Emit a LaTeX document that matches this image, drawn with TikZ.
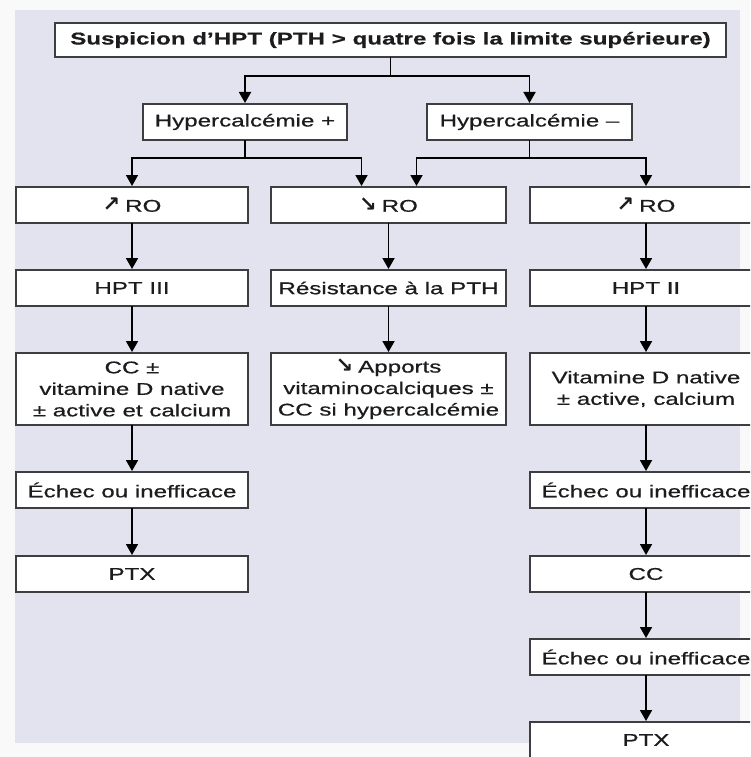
\documentclass[tikz,border=0pt]{standalone}
\usepackage{fontspec}
\setmainfont[FakeStretch=1.42,FakeBold=0.6]{Liberation Sans}
\newfontfamily\arrowfont{DejaVu Sans}
\usetikzlibrary{arrows.meta}
\definecolor{panel}{RGB}{227,227,240}
\definecolor{edge}{RGB}{62,62,66}
\definecolor{ink}{RGB}{28,28,30}
\newcommand{\up}{{\arrowfont\bfseries\fontsize{21}{21}\selectfont ↗}\hspace{5pt}}
\newcommand{\down}{{\arrowfont\bfseries\fontsize{21}{21}\selectfont ↘}\hspace{5pt}}
\begin{document}
\begin{tikzpicture}[x=1pt,y=-1pt,
  box/.style={draw=edge,fill=white,line width=1.3pt,inner sep=2pt,outer sep=0pt,
    align=center,text=ink,font=\fontsize{17}{21.5}\selectfont,
    minimum height=36pt},
  colL/.style={box,minimum width=232pt},
  colM/.style={box,minimum width=235pt},
  colR/.style={box,minimum width=232pt},
  flow/.style={draw=black,line width=1.8pt,
    -{Triangle[width=12pt,length=11pt]},shorten >=1pt}]
\useasboundingbox (0,0) rectangle (750,757);
\clip (0,0) rectangle (750,757);
% page and panel
\fill[white!95!gray] (0,0) rectangle (750,757);
\fill[panel] (15,10) rectangle (740,743);

% top level
\node[box,minimum width=671pt,minimum height=34pt,font=\fontsize{17}{21.5}\selectfont\bfseries]
  (title) at (390.5,40) {Suspicion d’HPT (PTH > quatre fois la limite supérieure)};
\node[box,minimum width=204pt] (hp) at (245,122) {Hypercalcémie +};
\node[box,minimum width=205pt] (hm) at (529.5,122) {Hypercalcémie –};

% left column
\node[colL] (ro1) at (132,205) {\up RO};
\node[colL] (hpt3) at (132,288) {HPT III};
\node[colL,minimum height=72pt] (cc1) at (132,389) {CC ±\\vitamine D native\\± active et calcium};
\node[colL] (ech1) at (132,490) {Échec ou inefficace};
\node[colL] (ptx1) at (132,574) {PTX};

% middle column
\node[colM] (ro2) at (388.5,205) {\down RO};
\node[colM] (res) at (388.5,288) {Résistance à la PTH};
\node[colM,minimum height=72pt] (app) at (388.5,389) {\down Apports\\vitaminocalciques ±\\CC si hypercalcémie};

% right column
\node[colR] (ro3) at (646,205) {\up RO};
\node[colR] (hpt2) at (646,288) {HPT II};
\node[colR,minimum height=72pt] (vit) at (646,389) {Vitamine D native\\± active, calcium};
\node[colR] (ech2) at (646,490) {Échec ou inefficace};
\node[colR] (cc2) at (646,574) {CC};
\node[colR] (ech3) at (646,657) {Échec ou inefficace};
\node[colR] (ptx2) at (646,740) {PTX};

% branching connectors
\draw[flow] (title.south) -- ++(0,19) -| (hp.north);
\draw[flow] (title.south) -- ++(0,19) -| (hm.north);
\draw[flow] (hp.south) -- ++(0,18) -| (ro1.north);
\draw[flow] (hp.south) -- ++(0,18) -| ([xshift=-27pt]ro2.north);
\draw[flow] (hm.south) -- ++(0,18) -| ([xshift=28pt]ro2.north);
\draw[flow] (hm.south) -- ++(0,18) -| (ro3.north);

% column connectors
\draw[flow] (ro1) -- (hpt3);
\draw[flow] (hpt3) -- (cc1);
\draw[flow] (cc1) -- (ech1);
\draw[flow] (ech1) -- (ptx1);
\draw[flow] (ro2) -- (res);
\draw[flow] (res) -- (app);
\draw[flow] (ro3) -- (hpt2);
\draw[flow] (hpt2) -- (vit);
\draw[flow] (vit) -- (ech2);
\draw[flow] (ech2) -- (cc2);
\draw[flow] (cc2) -- (ech3);
\draw[flow] (ech3) -- (ptx2);
\end{tikzpicture}
\end{document}
